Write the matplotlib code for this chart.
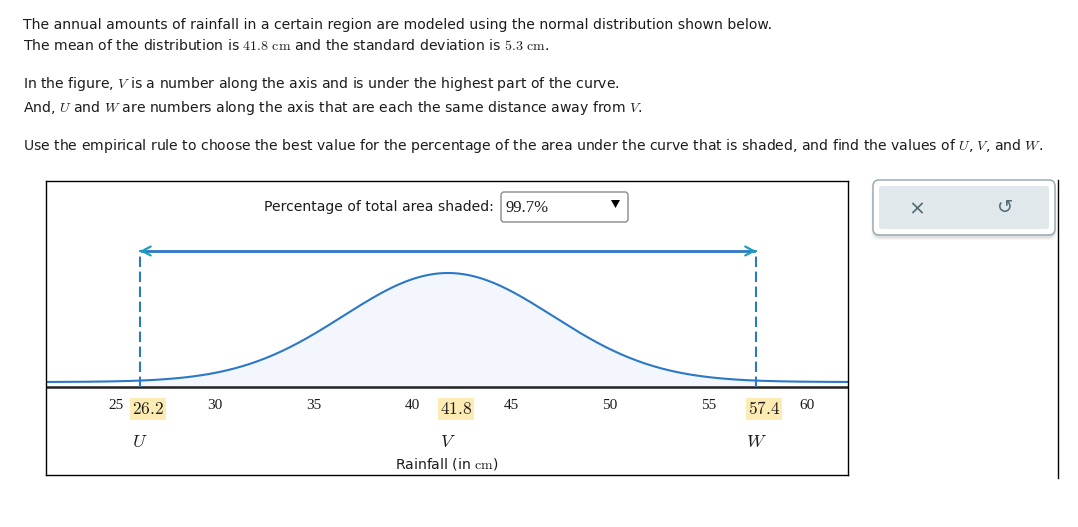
import numpy as np
import matplotlib
matplotlib.use("Agg")
import matplotlib.pyplot as plt
import matplotlib.transforms as mtransforms
from matplotlib.patches import FancyBboxPatch, Polygon

plt.rcParams['font.family'] = ['DejaVu Sans']
plt.rcParams['mathtext.fontset'] = 'cm'

# Data of the problem
MEAN = 41.8
SD = 5.3
U_VAL = 26.2
V_VAL = 41.8
W_VAL = 57.4
TICKS = [25, 30, 35, 40, 45, 50, 55, 60]
XLIM = (21.44, 62.06)
SHADED = "99.7"

TEXT_LINES = [
    "The annual amounts of rainfall in a certain region are modeled using the normal distribution shown below.",
    r"The mean of the distribution is $41.8\ \mathrm{cm}$ and the standard deviation is $5.3\ \mathrm{cm}$.",
    r"In the figure, $V$ is a number along the axis and is under the highest part of the curve.",
    r"And, $U$ and $W$ are numbers along the axis that are each the same distance away from $V$.",
    r"Use the empirical rule to choose the best value for the percentage of the area under the curve that is shaded, and find the values of $U$, $V$, and $W$.",
]
TEXT_Y = [25, 46, 84, 108, 146]

BLUE = '#2b77c8'
TEAL = '#1b9dc0'
FILL = '#f3f7fd'
HILITE = '#fcebb2'
TXT = '#1c1c1c'
ICON = '#4f6b78'
FS = 10.1

fig = plt.figure(figsize=(10.78, 5.27), dpi=100)

# overlay in pixel coordinates for the page elements
ax0 = fig.add_axes([0, 0, 1, 1])
ax0.set_xlim(0, 1078)
ax0.set_ylim(527, 0)
ax0.axis('off')

for line, y in zip(TEXT_LINES, TEXT_Y):
    ax0.text(23, y, line, fontsize=FS, color=TXT, ha='left', va='center')

# dropdown
ax0.text(494, 207, "Percentage of total area shaded:", fontsize=FS, color=TXT,
         ha='right', va='center')
ax0.add_patch(FancyBboxPatch((501, 192), 127, 30, boxstyle="round,pad=0,rounding_size=3",
                             facecolor='white', edgecolor='#8a8a8a', lw=1))
ax0.text(506, 208, SHADED + "%", fontsize=12, family='Liberation Serif', color=TXT,
         ha='left', va='center')
ax0.add_patch(Polygon([[611, 200], [620, 200], [615.5, 208]], closed=True,
                      facecolor='black', edgecolor='none'))

# right panel with buttons
for k, a in enumerate([0.05, 0.04, 0.03]):
    ax0.add_patch(FancyBboxPatch((873 - k, 181 + k + 1), 182 + 2 * k, 56, boxstyle="round,pad=0,rounding_size=7",
                                 facecolor='black', edgecolor='none', alpha=a))
ax0.add_patch(FancyBboxPatch((873, 180), 182, 55, boxstyle="round,pad=0,rounding_size=6",
                             facecolor='white', edgecolor='#8fa5ae', lw=1))
ax0.add_patch(FancyBboxPatch((879, 186), 170, 43, boxstyle="round,pad=0,rounding_size=3",
                             facecolor='#e1e8eb', edgecolor='none'))
ax0.plot([913, 922], [203.5, 212.5], color=ICON, lw=1.2)
ax0.plot([913, 922], [212.5, 203.5], color=ICON, lw=1.2)
ax0.text(1005, 208, "\u21ba", fontsize=14, color=ICON, ha='center', va='center')
ax0.plot([1058, 1058], [180, 478], color='black', lw=1)

# chart area
ax = fig.add_axes([46 / 1078, (527 - 475) / 527, (848 - 46) / 1078, (475 - 181) / 527])
ax.patch.set_alpha(0)
ax.set_xticks([])
ax.set_yticks([])
for sp in ax.spines.values():
    sp.set_color('black')
    sp.set_linewidth(1)

peak = 1 / (SD * np.sqrt(2 * np.pi))
ax.set_xlim(*XLIM)
ax.set_ylim(-0.853 * peak, 1.844 * peak)

x = np.linspace(XLIM[0], XLIM[1], 500)
pdf = np.exp(-(x - MEAN) ** 2 / (2 * SD ** 2)) / (SD * np.sqrt(2 * np.pi))
y_axis = -0.046 * peak
y_arrow = 1.202 * peak

mask = (x >= U_VAL) & (x <= W_VAL)
ax.fill_between(x, pdf, y_axis, where=mask, color=FILL, lw=0)
ax.plot(x, pdf, color=BLUE, lw=1.5, solid_capstyle='butt')
ax.axhline(y_axis, color='#222222', lw=1.8)

# dashed bounds and arrow
for xv in (U_VAL, W_VAL):
    ax.plot([xv, xv], [y_axis, y_arrow], color=BLUE, lw=1.5, linestyle=(0, (5, 2.2)))
ax.plot([U_VAL + 0.1, W_VAL - 0.1], [y_arrow, y_arrow], color=BLUE, lw=2)
ax.annotate('', xy=(U_VAL, y_arrow), xytext=(U_VAL + 0.05, y_arrow),
            arrowprops=dict(arrowstyle='->,head_length=0.6,head_width=0.32', color=TEAL, lw=1.6,
                            shrinkA=0, shrinkB=0))
ax.annotate('', xy=(W_VAL, y_arrow), xytext=(W_VAL - 0.05, y_arrow),
            arrowprops=dict(arrowstyle='->,head_length=0.6,head_width=0.32', color=TEAL, lw=1.6,
                            shrinkA=0, shrinkB=0))

# tick labels
for t in TICKS:
    ax.text(t, -0.211 * peak, str(t), fontsize=11, family='Liberation Serif', color=TXT,
            ha='center', va='center')

shift = mtransforms.offset_copy(ax.transData, fig=fig, x=8, y=0, units='dots')
for xv, name in zip((U_VAL, V_VAL, W_VAL), ('U', 'V', 'W')):
    ax.text(xv, -0.25 * peak, r"$%.1f$" % xv, fontsize=12.5, color=TXT, ha='center', va='center',
            transform=shift,
            bbox=dict(facecolor=HILITE, edgecolor='none', boxstyle='square,pad=0.12'))
    ax.text(xv, -0.55 * peak, r"$%s$" % name, fontsize=13, color=TXT, ha='center', va='center')

ax.text(0.5, 0.037, r"Rainfall (in $\mathrm{cm}$)", fontsize=FS, color=TXT,
        ha='center', va='center', transform=ax.transAxes)

fig.savefig("out.png", dpi=100)
